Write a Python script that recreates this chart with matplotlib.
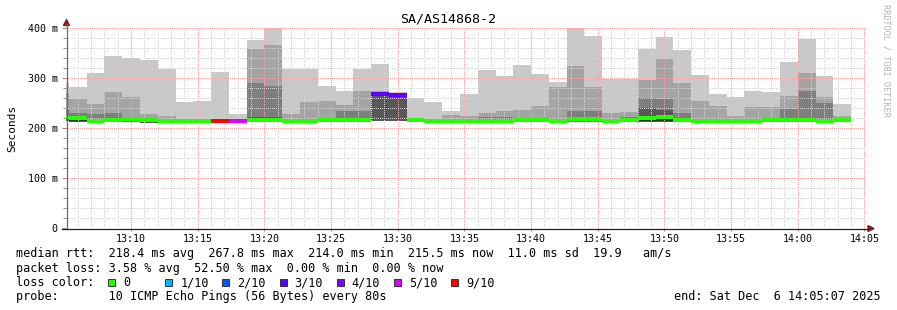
import matplotlib
matplotlib.use("Agg")
import matplotlib.pyplot as plt
import matplotlib.dates as mdates
from matplotlib.ticker import MultipleLocator, FuncFormatter
from matplotlib.patches import Polygon, Rectangle
from matplotlib.lines import Line2D
import numpy as np
import pandas as pd

# 80 s steps, the first one is cut by the left edge of the graph
times = pd.date_range("2025-12-06 13:04:00", periods=45, freq="80s")

# smoke layers (ms), outer -> inner
light_top = [291, 282, 310, 344, 340, 336, 318, 252, 255, 312, 228, 377, 400, 318, 318,
             284, 274, 318, 328, 272, 260, 252, 234, 268, 316, 304, 326, 308, 292, 400,
             384, 298, 298, 358, 382, 356, 306, 268, 262, 274, 272, 332, 378, 304, 248]
mid_top = [271, 258, 248, 272, 262, 228, 224, 217, 216, 217, 217, 358, 366, 228, 252,
           255, 246, 274, 274, 270, 216, 214, 226, 224, 230, 234, 236, 244, 282, 324,
           282, 230, 232, 296, 338, 290, 254, 244, 224, 242, 242, 264, 310, 262, 224]
dark_top = [236, 230, 228, 230, 223, 218, 215, 215, 215, 214, 214, 290, 284, 214, 216,
            217, 234, 234, 272, 268, 216, 214, 214, 214, 222, 222, 218, 217, 216, 234,
            234, 215, 222, 260, 258, 230, 215, 215, 215, 215, 216, 238, 274, 250, 216]
core_top = [223, 224, 212, 212, 212, 212, 212, 212, 212, 212, 212, 222, 222, 212, 212,
            212, 212, 212, 267, 267, 212, 212, 212, 212, 212, 212, 212, 212, 212, 212,
            212, 212, 212, 240, 236, 212, 212, 212, 212, 212, 212, 212, 212, 212, 212]
rtt_lo = [214, 213, 212, 212, 213, 211, 212, 212, 212, 212, 212, 213, 213, 211, 212,
          213, 212, 212, 214, 214, 213, 212, 212, 212, 212, 212, 213, 213, 212, 213,
          213, 212, 212, 213, 213, 212, 212, 212, 212, 212, 213, 213, 213, 212, 213]
inner_lo = [222, 214, 216, 216, 217, 215, 214, 214, 214, 213, 213, 214, 214, 213, 215,
            216, 213, 216, 266, 266, 216, 214, 214, 214, 215, 214, 215, 216, 214, 214,
            214, 214, 216, 214, 214, 216, 214, 214, 214, 214, 216, 216, 216, 214, 216]
inner_hi = [222, 216, 218, 218, 217, 215, 214, 214, 214, 213, 213, 218, 218, 213, 215,
            216, 218, 216, 266, 266, 216, 214, 214, 214, 215, 214, 217, 216, 214, 218,
            218, 214, 216, 219, 220, 216, 214, 214, 214, 214, 216, 216, 216, 214, 216]
median = [222, 219.5, 215, 215.5, 217.5, 215.5, 214, 214, 214, 213.5, 213.5, 216.5, 216.5, 214, 215,
          216.5, 217, 216, 267.8, 266.5, 216.5, 214, 214, 214, 215, 214.5, 217, 216.5, 214.5, 218,
          218, 214, 216, 220.5, 222, 216, 214, 214, 214, 214, 216, 216, 216, 214, 216]
loss = ["0", "0", "0", "0", "0", "0", "0", "0", "0", "9/10", "5/10", "0", "0", "0", "0",
        "0", "0", "0", "3/10", "3/10", "0", "0", "0", "0", "0", "0", "0", "0", "0", "0",
        "0", "0", "0", "0", "0", "0", "0", "0", "0", "0", "0", "0", "0", "0", "0"]

loss_labels = ["0", "1/10", "2/10", "3/10", "4/10", "5/10", "9/10"]
loss_colors = ["#26ff00", "#00b8ff", "#0059ff", "#5e00ff", "#7e00ff", "#dd00ff", "#ff0000"]
color_of = dict(zip(loss_labels, loss_colors))

W, H = 897, 310
fig = plt.figure(figsize=(W / 100, H / 100), dpi=100)
fig.patch.set_facecolor("white")
mono = "DejaVu Sans Mono"


def fx(px):
    return px / W


def fy(py):
    return 1 - py / H


ax = fig.add_axes([fx(66), fy(228), 800 / W, 200 / H])
x = mdates.date2num(times)
step = 80 / 86400.0
lo = np.array(rtt_lo, dtype=float)


def layer(top, bottom, color, z):
    top = np.asarray(top, dtype=float)
    bottom = np.asarray(bottom, dtype=float)
    ax.bar(x, top - bottom, width=step, bottom=bottom, align="edge", color=color,
           linewidth=0, antialiased=False, zorder=z)


layer(light_top, lo, "#c8c8c8", 1)
layer(mid_top, lo, "#a4a4a4", 1.1)
layer(dark_top, lo, "#7e7e7e", 1.2)
layer(core_top, lo, "#585858", 1.3)
layer(inner_hi, inner_lo, "#2a2a2a", 1.4)

ax.hlines(median, x, x + step, colors=[color_of[l] for l in loss], linewidth=1.5,
          antialiased=False, zorder=3)

ax.set_xlim(mdates.date2num(pd.Timestamp("2025-12-06 13:05:07")),
            mdates.date2num(pd.Timestamp("2025-12-06 14:05:07")))
ax.set_ylim(0, 400)

ax.xaxis.set_major_locator(mdates.MinuteLocator(byminute=range(0, 60, 5)))
ax.xaxis.set_minor_locator(mdates.MinuteLocator())
ax.xaxis.set_major_formatter(mdates.DateFormatter("%H:%M"))
ax.yaxis.set_major_locator(MultipleLocator(100))
ax.yaxis.set_minor_locator(MultipleLocator(20))
ax.yaxis.set_major_formatter(FuncFormatter(lambda v, p: "0" if v == 0 else "%d m" % v))

ax.set_axisbelow(False)
ax.grid(which="minor", color="#d2d2d2", linestyle=(0, (1, 2)), linewidth=0.72, antialiased=False)
ax.grid(which="major", color="#f0a8a8", linestyle=(0, (1, 2)), linewidth=0.72, antialiased=False)

for s in ax.spines.values():
    s.set_visible(False)
ax.tick_params(axis="both", which="both", color="#8c8c8c", width=0.72)
ax.tick_params(axis="y", which="major", length=3, pad=3, labelsize=7.2)
ax.tick_params(axis="y", which="minor", length=2)
ax.tick_params(axis="x", which="major", length=2, pad=2.5, labelsize=7.2)
ax.tick_params(axis="x", which="minor", length=0)
for lab in ax.get_xticklabels() + ax.get_yticklabels():
    lab.set_family(mono)

# axes with arrows
fig.add_artist(Line2D([fx(66.5), fx(66.5)], [fy(228), fy(24)], color="#6a6a6a", linewidth=0.9))
fig.add_artist(Line2D([fx(62), fx(868)], [fy(228.5), fy(228.5)], color="#1f1f1f", linewidth=0.9))
fig.add_artist(Polygon([[fx(63.5), fy(25.5)], [fx(69.5), fy(25.5)], [fx(66.5), fy(19.5)]],
                       closed=True, color="#7f1f1f", transform=fig.transFigure))
fig.add_artist(Polygon([[fx(868), fy(225.5)], [fx(868), fy(231.5)], [fx(874), fy(228.5)]],
                       closed=True, color="#7f1f1f", transform=fig.transFigure))

fig.text(fx(448), fy(19), "SA/AS14868-2", ha="center", va="center", fontsize=9.6, family=mono)
fig.text(fx(12), fy(128), "Seconds", rotation=90, ha="center", va="center", fontsize=8, family=mono)
fig.text(fx(886), fy(4), "RRDTOOL / TOBI OETIKER", rotation=270, ha="center", va="top",
         fontsize=6.1, color="#b4b4b4", family=mono)

fs = 8.5
fig.text(fx(16), fy(254), "median rtt:  218.4 ms avg  267.8 ms max  214.0 ms min  215.5 ms now  11.0 ms sd  19.9   am/s",
         va="center", fontsize=fs, family=mono)
fig.text(fx(16), fy(268.3), "packet loss: 3.58 % avg  52.50 % max  0.00 % min  0.00 % now",
         va="center", fontsize=fs, family=mono)
fig.text(fx(16), fy(282.6), "loss color:", va="center", fontsize=fs, family=mono)
for i, (lab, col) in enumerate(zip(loss_labels, loss_colors)):
    bx = 108 + i * 57.2
    fig.add_artist(Rectangle((fx(bx), fy(286)), 7 / W, 7 / H, facecolor=col, edgecolor="#202020",
                             linewidth=0.6, transform=fig.transFigure))
    fig.text(fx(bx + 15), fy(282.6), lab, va="center", fontsize=fs, family=mono)
fig.text(fx(16), fy(296.7), "probe:       10 ICMP Echo Pings (56 Bytes) every 80s",
         va="center", fontsize=fs, family=mono)
fig.text(fx(881), fy(296.7), "end: Sat Dec  6 14:05:07 2025", ha="right", va="center",
         fontsize=fs, family=mono)

fig.savefig("out.png", dpi=100)
